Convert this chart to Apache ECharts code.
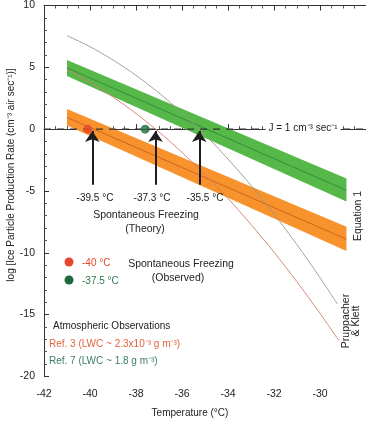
<!DOCTYPE html>
<html>
<head>
<meta charset="utf-8">
<script src="https://cdn.jsdelivr.net/npm/echarts@6/dist/echarts.min.js"></script>
<style>
  html, body { margin: 0; padding: 0; background: #fff; }
  #chart { width: 366px; height: 421px; }
</style>
</head>
<body>
<div id="chart"></div>
<script>
  // temperature (deg C) and log J values
  const bandX = [-41, -28.85];
  const greenTop = [5.6, -4.0];
  const greenBottom = [4.3, -5.85];
  const greenMid = [4.95, -4.95];
  const orangeTop = [1.63, -7.9];
  const orangeBottom = [0.3, -9.86];
  const orangeMid = [0.95, -8.9];

  // Pruppacher & Klett curves
  const pkX = [-41, -40, -39, -38, -37, -36, -35, -34, -33, -32, -31, -30, -29.25];
  const pkUpper = [7.56, 6.67, 5.59, 4.35, 2.92, 1.32, -0.46, -2.42, -4.55, -6.86, -9.35, -12.01, -14.13];
  const pkLowerX = [-41, -40, -39, -38, -37, -36, -35, -34, -33, -32, -31, -30, -29.18];
  const pkLower = [4.83, 3.79, 2.6, 1.26, -0.23, -1.88, -3.67, -5.61, -7.71, -9.95, -12.35, -14.9, -17.1];

  // observed freezing points
  const obsRed = [-40.1, 0];
  const obsGreen = [-37.6, 0];

  // arrows (theory)
  const arrowX = [-39.9, -37.15, -35.25];
  const arrowY = [-4.5, -0.15];

  const xTicks = { min: -42, max: -28, interval: 2 };
  const yTicks = { min: -20, max: 10, interval: 5 };

  const font = '"Liberation Sans", Arial, sans-serif';

  function pairs(xs, ys) {
    return xs.map((x, i) => [x, ys[i]]);
  }

  function band(top, bottom, color) {
    return {
      type: 'custom',
      coordinateSystem: 'cartesian2d',
      silent: true,
      z: 1,
      data: [[bandX[0], top[0]]],
      renderItem: function(params, api) {
        const pts = [
          api.coord([bandX[0], top[0]]),
          api.coord([bandX[1], top[1]]),
          api.coord([bandX[1], bottom[1]]),
          api.coord([bandX[0], bottom[0]])
        ];
        return {
          type: 'polygon',
          shape: { points: pts },
          style: { fill: color }
        };
      }
    };
  }

  function thinLine(data, color, width, z) {
    return {
      type: 'line',
      data: data,
      showSymbol: false,
      smooth: 0.3,
      silent: true,
      z: z,
      lineStyle: { color: color, width: width }
    };
  }

  let series = [
    band(orangeTop, orangeBottom, '#f7922c'),
    band(greenTop, greenBottom, '#56b848'),
    thinLine(pairs(bandX, orangeMid), '#c9601c', 0.9, 3),
    thinLine(pairs(bandX, greenMid), '#2d8a3a', 0.9, 3),
    thinLine(pairs(pkX, pkUpper), '#9c9788', 0.9, 4),
    thinLine(pairs(pkLowerX, pkLower), '#d77a6c', 0.9, 4),
    {
      type: 'line',
      data: [[xTicks.min, 0], [xTicks.max, 0]],
      showSymbol: false,
      silent: true,
      z: 5,
      lineStyle: { color: '#333', width: 1.1, type: [7, 6] }
    },
    {
      type: 'lines',
      coordinateSystem: 'cartesian2d',
      silent: true,
      z: 6,
      symbol: ['none', 'arrow'],
      symbolSize: [8, 11],
      lineStyle: { color: '#1e1e1e', width: 2, opacity: 1 },
      data: arrowX.map(x => ({ coords: [[x, arrowY[0]], [x, arrowY[1]]] }))
    },
    {
      type: 'scatter',
      data: [obsRed],
      symbolSize: 9,
      z: 7,
      itemStyle: { color: '#e8472e' }
    },
    {
      type: 'scatter',
      data: [obsGreen],
      symbolSize: 9,
      z: 7,
      itemStyle: { color: '#1f6a3c' }
    }
  ];

  const txt = (x, y, text, opts, rotation) => ({
    type: 'text',
    x: x,
    y: y,
    rotation: rotation || 0,
    z: 100,
    style: Object.assign({
      text: text,
      fontFamily: font,
      fontSize: 10,
      fill: '#222',
      align: 'center',
      verticalAlign: 'middle'
    }, opts || {})
  });

  let graphic = [
    txt(11, 175, 'log [Ice Particle Production Rate (cm\u207B\u00B3 air sec\u207B\u00B9)]', { fontSize: 10 }, Math.PI / 2),
    txt(303, 128, 'J = 1 cm\u207B\u00B3 sec\u207B\u00B9', { backgroundColor: '#fff', padding: [1, 3], fontSize: 10 }),
    txt(95, 198, '-39.5 \u00B0C'),
    txt(152, 198, '-37.3 \u00B0C'),
    txt(205, 198, '-35.5 \u00B0C'),
    txt(146, 215, 'Spontaneous Freezing', { fontSize: 10.5 }),
    txt(145, 229, '(Theory)', { fontSize: 10.5 }),
    { type: 'circle', shape: { cx: 69, cy: 262, r: 4.5 }, style: { fill: '#e8472e' }, z: 100 },
    { type: 'circle', shape: { cx: 69, cy: 280, r: 4.5 }, style: { fill: '#1f6a3c' }, z: 100 },
    txt(82, 263, '-40 \u00B0C', { align: 'left', fill: '#e8472e' }),
    txt(82, 281, '-37.5 \u00B0C', { align: 'left', fill: '#2e7a4c' }),
    txt(181, 264, 'Spontaneous Freezing', { fontSize: 10.5 }),
    txt(178, 278, '(Observed)', { fontSize: 10.5 }),
    txt(53, 326, 'Atmospheric Observations', { align: 'left' }),
    txt(49, 344, 'Ref. 3 (LWC ~ 2.3x10\u207B\u00B3 g m\u207B\u00B3)', { align: 'left', fill: '#e3633f' }),
    txt(49, 361, 'Ref. 7 (LWC ~ 1.8 g m\u207B\u00B3)', { align: 'left', fill: '#3d8060' }),
    txt(190, 413, 'Temperature (\u00B0C)'),
    txt(358, 216, 'Equation 1', { fontSize: 10.5 }, Math.PI / 2),
    txt(351, 321, 'Pruppacher\n& Klett', { fontSize: 10.5, lineHeight: 10 }, Math.PI / 2)
  ];

  const axisCommon = {
    axisLine: { show: true, lineStyle: { color: '#333', width: 1 } },
    axisTick: { show: true, inside: true, length: 5, lineStyle: { color: '#333' } },
    splitLine: { show: false },
    minorSplitLine: { show: false }
  };

  let option = {
    animation: false,
    backgroundColor: '#fff',
    grid: { left: 44, top: 2, width: 327, height: 374.4 },
    xAxis: [
      Object.assign({
        type: 'value',
        position: 'bottom',
        min: xTicks.min, max: xTicks.max, interval: xTicks.interval,
        axisLabel: { color: '#222', fontSize: 10.5, fontFamily: font, margin: 12, showMaxLabel: false },
        minorTick: { show: true, splitNumber: 4, length: 3, lineStyle: { color: '#555' } }
      }, axisCommon),
      Object.assign({
        type: 'value',
        position: 'top',
        min: xTicks.min, max: xTicks.max, interval: xTicks.interval,
        axisLabel: { show: false },
        minorTick: { show: true, splitNumber: 4, length: 3, lineStyle: { color: '#555' } }
      }, axisCommon)
    ],
    yAxis: [
      Object.assign({
        type: 'value',
        min: yTicks.min, max: yTicks.max, interval: yTicks.interval,
        axisLabel: { color: '#222', fontSize: 10.5, fontFamily: font, margin: 9 },
        minorTick: { show: true, splitNumber: 5, length: 3, lineStyle: { color: '#555' } }
      }, axisCommon)
    ],
    series: series,
    graphic: graphic
  };

  let chart = echarts.init(document.getElementById('chart'));
  chart.setOption(option);
</script>
</body>
</html>
